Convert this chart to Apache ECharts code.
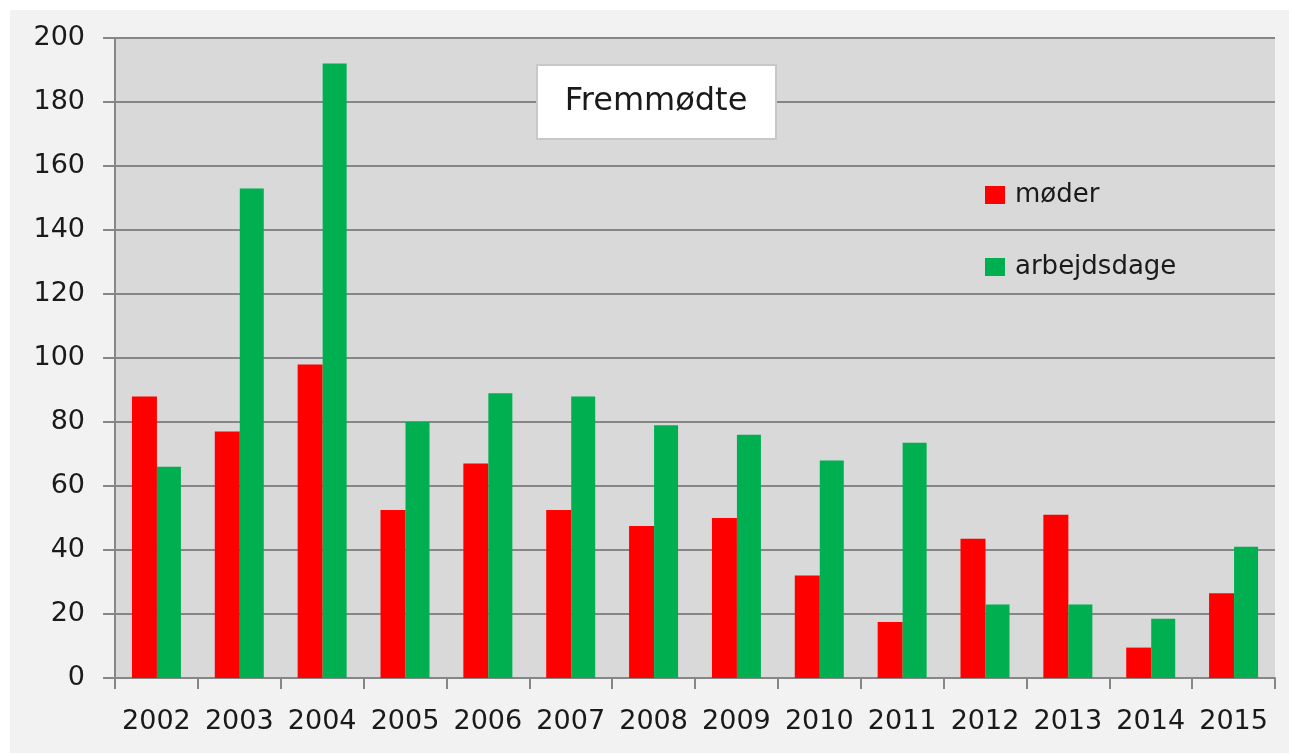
<!DOCTYPE html>
<html>
<head>
<meta charset="utf-8">
<title>Fremmødte</title>
<script src="https://cdn.jsdelivr.net/npm/echarts@6/dist/echarts.min.js"></script>
<style>
html,body{margin:0;padding:0;background:#fff;}
#main{width:1289px;height:754px;}
</style>
</head>
<body>
<div id="main"></div>
<script>
var years=["2002","2003","2004","2005","2006","2007","2008","2009","2010","2011","2012","2013","2014","2015"];
var moeder=[88,77,98,52.5,67,52.5,47.5,50,32,17.5,43.5,51,9.5,26.5];
var arbejdsdage=[66,153,192,80,89,88,79,76,68,73.5,23,23,18.5,41];
var yTicks=[0,20,40,60,80,100,120,140,160,180,200];

var labelFont="DejaVu Sans";
var gridColor="#868686";

var myChart=echarts.init(document.getElementById('main'));
var option={
    backgroundColor:'#ffffff',
    animation:false,
    graphic:[
        {
            type:'rect',
            z:-10,
            shape:{x:10,y:10,width:1279,height:743},
            style:{fill:'#f2f2f2'}
        },
        {
            type:'rect',
            z:100,
            zlevel:1,
            shape:{x:537,y:65,width:239,height:74},
            style:{fill:'#ffffff',stroke:'#c8c8c8',lineWidth:2}
        },
        {
            type:'text',
            z:101,
            zlevel:1,
            x:656,
            y:102,
            style:{
                text:'Fremmødte',
                fill:'#1a1a1a',
                font:'32px "DejaVu Sans"',
                align:'center',
                verticalAlign:'middle'
            }
        }
    ],
    grid:{
        left:115,
        top:38,
        right:14,
        bottom:76,
        show:true,
        backgroundColor:'#d9d9d9',
        borderWidth:0
    },
    legend:{
        data:['møder','arbejdsdage'],
        orient:'vertical',
        left:980,
        top:177,
        icon:'rect',
        itemWidth:20,
        itemHeight:18,
        itemGap:46,
        textStyle:{
            fontFamily:labelFont,
            fontSize:26,
            color:'#1a1a1a',
            padding:[0,0,0,5]
        }
    },
    xAxis:{
        type:'category',
        data:years,
        axisLine:{lineStyle:{color:gridColor,width:2}},
        axisTick:{show:true,interval:0,length:11,lineStyle:{color:gridColor,width:2}},
        axisLabel:{
            interval:0,
            margin:30,
            fontFamily:labelFont,
            fontSize:27,
            color:'#1a1a1a'
        },
        splitLine:{show:false}
    },
    yAxis:{
        type:'value',
        min:yTicks[0],
        max:yTicks[yTicks.length-1],
        interval:20,
        axisLine:{show:true,lineStyle:{color:gridColor,width:2}},
        axisTick:{show:true,length:12,lineStyle:{color:gridColor,width:2}},
        axisLabel:{
            margin:30,
            fontFamily:labelFont,
            fontSize:27,
            color:'#1a1a1a'
        },
        splitLine:{show:true,lineStyle:{color:gridColor,width:2}}
    },
    series:[
        {
            name:'møder',
            type:'bar',
            data:moeder,
            barWidth:25,
            barGap:'0%',
            itemStyle:{color:'#ff0000'}
        },
        {
            name:'arbejdsdage',
            type:'bar',
            data:arbejdsdage,
            barWidth:24,
            barGap:'0%',
            itemStyle:{color:'#00b050'}
        }
    ]
};
myChart.setOption(option);
</script>
</body>
</html>
